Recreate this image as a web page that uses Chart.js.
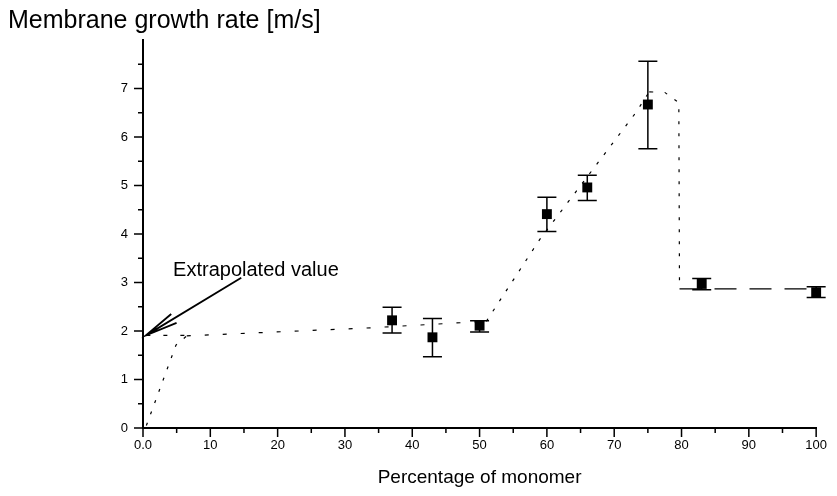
<!DOCTYPE html>
<html>
<head>
<meta charset="utf-8">
<script src="https://cdn.jsdelivr.net/npm/chart.js@4.4.1/dist/chart.umd.min.js"></script>
<style>
  html, body { margin: 0; padding: 0; background: #fff; }
  #wrap { width: 837px; height: 496px; }
</style>
</head>
<body>
<div id="wrap"><canvas id="growthCanvas"></canvas></div>
<script>
// measured points (percentage of monomer vs membrane growth rate)
const monomerPct = [37, 43, 50, 60, 66, 75, 83, 100];
const growthRate = [2.22, 1.87, 2.11, 4.41, 4.96, 6.67, 2.97, 2.80];
const errUpper = [2.49, 2.26, 2.21, 4.76, 5.21, 7.56, 3.08, 2.91];
const errLower = [1.96, 1.47, 1.98, 4.05, 4.69, 5.76, 2.85, 2.69];

// dotted guide curve through the data
const fitX = [0.5, 4.9, 6.5, 33, 51, 58.9, 63.1, 73.2, 75.2, 77.5, 79.6, 79.7, 100];
const fitY = [0.05, 1.71, 1.9, 2.06, 2.2, 3.88, 4.65, 6.5, 6.93, 6.92, 6.71, 2.87, 2.87];

// horizontal extrapolation to 0 %
const extrapX = [0.5, 6.5];
const extrapY = [1.91, 1.91];

// annotation arrow (tail -> tip) and its label, in data units
const arrowTail = [14.6, 3.1];
const arrowTip = [0.45, 1.91];
const noteText = 'Extrapolated value';
const notePos = [4.47, 3.13];

const xTickLabel = v => (v === 0 ? '0.0' : (v % 10 === 0 ? String(v) : ''));
const yTickLabel = v => (Number.isInteger(v) && v < 8 ? String(v) : '');

const toPoints = (xs, ys) => xs.map((x, i) => ({ x, y: ys[i] }));

Chart.defaults.font.family = "'Liberation Sans', Arial, sans-serif";
Chart.defaults.color = '#000';

// outward major/minor tick marks
const tickMarks = {
  id: 'tickMarks',
  afterDraw(chart) {
    const ctx = chart.ctx;
    const xs = chart.scales.x;
    const ys = chart.scales.y;
    ctx.save();
    ctx.strokeStyle = '#000';
    ctx.lineWidth = 1.5;
    ctx.beginPath();
    xs.ticks.forEach(t => {
      const px = xs.getPixelForValue(t.value);
      const len = t.value % 10 === 0 ? 9 : 5;
      ctx.moveTo(px, ys.bottom);
      ctx.lineTo(px, ys.bottom + len);
    });
    ys.ticks.forEach(t => {
      if (t.value >= 8) return;
      const py = ys.getPixelForValue(t.value);
      const len = Number.isInteger(t.value) ? 9 : 5;
      ctx.moveTo(xs.left, py);
      ctx.lineTo(xs.left - len, py);
    });
    ctx.stroke();
    ctx.restore();
  }
};

const errorBars = {
  id: 'errorBars',
  beforeDatasetsDraw(chart) {
    const ctx = chart.ctx;
    const xs = chart.scales.x;
    const ys = chart.scales.y;
    ctx.save();
    ctx.strokeStyle = '#000';
    ctx.lineWidth = 1.5;
    monomerPct.forEach((x, i) => {
      const px = xs.getPixelForValue(x);
      const top = ys.getPixelForValue(errUpper[i]);
      const bot = ys.getPixelForValue(errLower[i]);
      ctx.beginPath();
      ctx.moveTo(px, top);
      ctx.lineTo(px, bot);
      ctx.moveTo(px - 9.5, top);
      ctx.lineTo(px + 9.5, top);
      ctx.moveTo(px - 9.5, bot);
      ctx.lineTo(px + 9.5, bot);
      ctx.stroke();
    });
    ctx.restore();
  }
};

const arrowNote = {
  id: 'arrowNote',
  afterDatasetsDraw(chart) {
    const ctx = chart.ctx;
    const xs = chart.scales.x;
    const ys = chart.scales.y;
    const x0 = xs.getPixelForValue(arrowTail[0]);
    const y0 = ys.getPixelForValue(arrowTail[1]);
    const x1 = xs.getPixelForValue(arrowTip[0]);
    const y1 = ys.getPixelForValue(arrowTip[1]);
    const ang = Math.atan2(y0 - y1, x0 - x1);
    const head = 33;
    const spread = 9 * Math.PI / 180;
    ctx.save();
    ctx.strokeStyle = '#000';
    ctx.lineWidth = 1.8;
    ctx.beginPath();
    ctx.moveTo(x0, y0);
    ctx.lineTo(x1, y1);
    ctx.moveTo(x1 + head * Math.cos(ang - spread), y1 + head * Math.sin(ang - spread));
    ctx.lineTo(x1, y1);
    ctx.lineTo(x1 + head * Math.cos(ang + spread), y1 + head * Math.sin(ang + spread));
    ctx.stroke();
    ctx.fillStyle = '#000';
    ctx.font = "20px 'Liberation Sans', Arial, sans-serif";
    ctx.textBaseline = 'alphabetic';
    ctx.textAlign = 'left';
    ctx.fillText(noteText, xs.getPixelForValue(notePos[0]), ys.getPixelForValue(notePos[1]));
    ctx.restore();
  }
};

const lastFit = fitX.length - 1;

new Chart(document.getElementById('growthCanvas'), {
  type: 'scatter',
  data: {
    datasets: [
      {
        label: 'guide',
        data: toPoints(fitX, fitY),
        showLine: true,
        borderColor: '#000',
        borderWidth: 1.2,
        pointRadius: 0,
        tension: 0,
        segment: {
          borderDash: c => {
            if (c.p1DataIndex === lastFit) return [22, 13];
            const dx = Math.abs(c.p1.x - c.p0.x);
            const dy = Math.abs(c.p1.y - c.p0.y);
            return dy < dx * 0.2 ? [4, 14] : [3, 9];
          }
        }
      },
      {
        label: 'extrapolation',
        data: toPoints(extrapX, extrapY),
        showLine: true,
        borderColor: '#000',
        borderWidth: 1.2,
        borderDash: [4, 13],
        pointRadius: 0
      },
      {
        label: 'measured',
        data: toPoints(monomerPct, growthRate),
        showLine: false,
        clip: false,
        pointStyle: 'rect',
        pointRadius: 7,
        pointHoverRadius: 7,
        backgroundColor: '#000',
        borderColor: '#000',
        borderWidth: 0
      }
    ]
  },
  options: {
    responsive: true,
    maintainAspectRatio: false,
    animation: false,
    layout: { padding: { left: 8, right: 20, top: 0, bottom: 0 } },
    plugins: {
      legend: { display: false },
      tooltip: { enabled: false },
      title: {
        display: true,
        text: 'Membrane growth rate [m/s]',
        align: 'start',
        color: '#000',
        font: { size: 25, weight: 'normal' },
        padding: { top: 6, bottom: 4 }
      }
    },
    scales: {
      x: {
        type: 'linear',
        min: 0,
        max: 100,
        grid: { display: false, drawTicks: false },
        border: { display: true, color: '#000', width: 2 },
        ticks: {
          stepSize: 5,
          autoSkip: false,
          maxRotation: 0,
          padding: 10,
          font: { size: 13 },
          callback: xTickLabel
        },
        title: {
          display: true,
          text: 'Percentage of monomer',
          font: { size: 19 },
          padding: { top: 0, bottom: 7 }
        },
        afterFit: s => { s.height = 68; }
      },
      y: {
        type: 'linear',
        min: 0,
        max: 8,
        grid: { display: false, drawTicks: false },
        border: { display: true, color: '#000', width: 2 },
        ticks: {
          stepSize: 0.5,
          autoSkip: false,
          padding: 15,
          font: { size: 13 },
          callback: yTickLabel
        },
        afterFit: s => { s.width = 135; }
      }
    }
  },
  plugins: [errorBars, tickMarks, arrowNote]
});
</script>
</body>
</html>
